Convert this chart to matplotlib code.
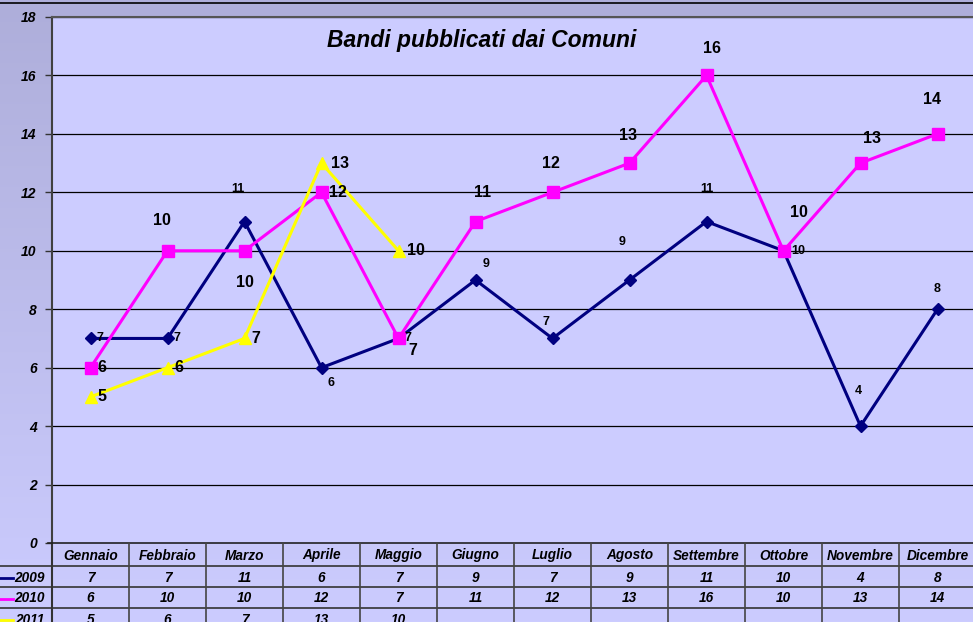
import numpy as np
import matplotlib.pyplot as plt
from matplotlib.colors import LinearSegmentedColormap
from matplotlib.lines import Line2D

plt.rcParams['font.family'] = ['Liberation Sans', 'DejaVu Sans']

months = ['Gennaio', 'Febbraio', 'Marzo', 'Aprile', 'Maggio', 'Giugno',
          'Luglio', 'Agosto', 'Settembre', 'Ottobre', 'Novembre', 'Dicembre']
v2009 = [7, 7, 11, 6, 7, 9, 7, 9, 11, 10, 4, 8]
v2010 = [6, 10, 10, 12, 7, 11, 12, 13, 16, 10, 13, 14]
v2011 = [5, 6, 7, 13, 10]
years = ['2009', '2010', '2011']

# label offsets in pixels (dx, dy up) -- how excel placed them
off2009 = [(6, 0, 'left'), (6, 0, 'left'), (-7, 33, 'center'), (10, -15, 'center'),
           (6, 0, 'left'), (11, 16, 'center'), (-7, 16, 'center'), (-7, 38, 'center'),
           (0, 33, 'center'), (8, 0, 'left'), (-2, 35, 'center'), (0, 20, 'center')]
off2010 = [(7, 0, 'left'), (-6, 30, 'center'), (0, -32, 'center'), (8, 0, 'left'),
           (14, -12, 'center'), (7, 29, 'center'), (-2, 29, 'center'), (-2, 28, 'center'),
           (6, 27, 'center'), (15, 38, 'center'), (12, 25, 'center'), (-5, 34, 'center')]
off2011 = [(7, 0, 'left'), (7, 0, 'left'), (7, 0, 'left'), (9, 0, 'left'), (9, 0, 'left')]

W, H = 973, 622
fig = plt.figure(figsize=(W / 100, H / 100), dpi=100)

# background gradient
bg = fig.add_axes([0, 0, 1, 1], zorder=-2)
cmap = LinearSegmentedColormap.from_list('bg', ['#AEAEDA', '#CCCCFF'])
grad = np.linspace(0, 1, 256).reshape(-1, 1)
bg.imshow(grad, aspect='auto', cmap=cmap, extent=[0, 1, 0, 1], origin='upper')
bg.axis('off')
bg.axhline(1 - 2.5 / H, color='black', lw=1.2)

x0, x1 = 52, 976
ytop, ybot = 17, 543
ax = fig.add_axes([x0 / W, 1 - ybot / H, (x1 - x0) / W, (ybot - ytop) / H])
ax.set_facecolor('#CCCCFF')
ax.set_xlim(0.5, 12.5)
ax.set_ylim(0, 18)
ax.set_yticks(range(0, 19, 2))
ax.set_yticklabels([str(v) for v in range(0, 19, 2)], fontsize=10,
                   fontweight='bold', fontstyle='italic')
ax.tick_params(axis='y', length=5, width=1, color='#333333', pad=6)
ax.set_xticks([])
for y in range(2, 19, 2):
    ax.axhline(y, color='black', lw=0.9, zorder=1)
for s in ['right', 'bottom']:
    ax.spines[s].set_visible(False)
ax.spines['left'].set_color('#404040')
ax.spines['left'].set_linewidth(1.5)
ax.spines['top'].set_color('#555555')
ax.spines['top'].set_linewidth(1.5)

xs = np.arange(1, 13)
ax.plot(xs, v2009, color='#000080', lw=2.2, marker='D', ms=6, zorder=3)
ax.plot(xs, v2010, color='#FF00FF', lw=2.2, marker='s', ms=8, zorder=3)
ax.plot(xs[:len(v2011)], v2011, color='#FFFF00', lw=2.2, marker='^', ms=8, zorder=3)

for vals, offs, fs in [(v2009, off2009, 9), (v2010, off2010, 11.5), (v2011, off2011, 11.5)]:
    for x, v, (dx, dy, ha) in zip(xs, vals, offs):
        ax.annotate(str(v), (x, v), xytext=(dx, dy), textcoords='offset pixels',
                    ha=ha, va='center', fontsize=fs, fontweight='bold', zorder=4)

ax.text(0.465, 0.955, 'Bandi pubblicati dai Comuni', transform=ax.transAxes,
        ha='center', va='center', fontsize=16.5, fontweight='bold', fontstyle='italic')

# data table below the plot, drawn in pixel coordinates
tab = fig.add_axes([0, 0, x1 / W, 1], zorder=2)
tab.set_xlim(0, x1)
tab.set_ylim(H, 0)
tab.axis('off')
col_w = (x1 - x0) / 12
rows = [543, 566, 587, 608, 629]
tab.plot([x0, x0], [ybot, H], color='#333333', lw=1.5)
tab.plot([x0 - 4, x1], [rows[0], rows[0]], color='#222222', lw=1.2)
for r in rows[1:4]:
    tab.plot([0, x1], [r, r], color='#333333', lw=1.2)
for i in range(1, 13):
    xl = x0 + i * col_w
    tab.plot([xl, xl], [ybot, H], color='#444444', lw=1.2)
for i, m in enumerate(months):
    tab.text(x0 + (i + 0.5) * col_w, (rows[0] + rows[1]) / 2 + 1, m, ha='center',
             va='center', fontsize=9.8, fontweight='bold', fontstyle='italic')
series = [(v2009, '#000080', 'D'), (v2010, '#FF00FF', 's'), (v2011, '#FFFF00', '^')]
for k, (vals, col, mk) in enumerate(series):
    yc = (rows[k + 1] + rows[k + 2]) / 2 + 1
    tab.add_line(Line2D([0, 13], [yc, yc], color=col, lw=2))
    tab.text(45, yc, years[k], ha='right', va='center', fontsize=9.8,
             fontweight='bold', fontstyle='italic')
    for i, v in enumerate(vals):
        tab.text(x0 + (i + 0.5) * col_w, yc, str(v), ha='center', va='center',
                 fontsize=9.8, fontweight='bold', fontstyle='italic')

fig.savefig('out.png', dpi=100)
